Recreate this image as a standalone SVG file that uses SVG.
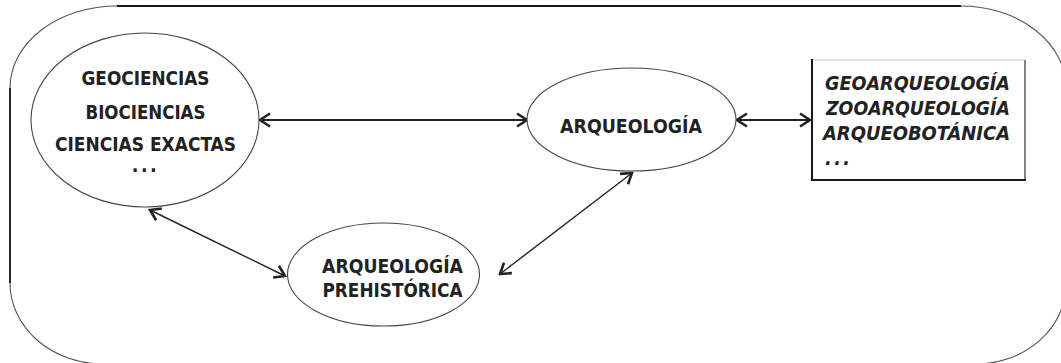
<svg xmlns="http://www.w3.org/2000/svg" width="1061" height="363" viewBox="0 0 1061 363">
  <style>
    .frame-curve { fill: none; stroke: #555; stroke-width: 1.1; }
    .frame-line { fill: none; stroke: #1a1a1a; stroke-width: 1.8; }
    .node-shape { fill: #fff; stroke: #444; stroke-width: 1.1; }
    .label { font-family: "DejaVu Sans Condensed", "DejaVu Sans", sans-serif; font-stretch: condensed; font-weight: bold; font-size: 19.5px; fill: #222; text-anchor: middle; }
    .label-it { font-family: "DejaVu Sans Condensed", "DejaVu Sans", sans-serif; font-stretch: condensed; font-weight: bold; font-style: italic; font-size: 19.5px; fill: #222; }
    .link { fill: none; stroke: #222; marker-start: url(#chevron); marker-end: url(#chevron); }
    .link-main { stroke-width: 2.2; }
    .link-diag { stroke-width: 1.4; }
  </style>
  <defs>
    <marker id="chevron" viewBox="-12 -8 14 16" markerWidth="14" markerHeight="16" refX="0" refY="0" orient="auto-start-reverse" markerUnits="userSpaceOnUse">
      <path d="M-10,-6.5 L0,0 L-10,6.5" fill="none" stroke="#222" stroke-width="2.6" stroke-linejoin="miter"/>
    </marker>
  </defs>

  <rect width="1061" height="363" fill="#fff"/>

  <!-- outer rounded frame; its bottom edge runs just below the canvas -->
  <g id="frame">
    <path class="frame-curve" d="M961,6 A105,82 0 0 1 1066,88 V283 A90,80 0 0 1 976,364 H103 A93,81 0 0 1 10,283 V88 A107,82 0 0 1 117,6"/>
    <line class="frame-line" x1="117" y1="6" x2="961" y2="6"/>
    <line class="frame-line" x1="10" y1="88" x2="10" y2="283" stroke-width="2.4"/>
  </g>

  <!-- connectors -->
  <g id="connectors">
    <line class="link link-main" x1="260" y1="120" x2="527" y2="120"/>
    <line class="link link-main" x1="737" y1="120" x2="810" y2="120"/>
    <line class="link link-diag" x1="150" y1="210" x2="285" y2="276"/>
    <line class="link link-diag" x1="500" y1="274" x2="632" y2="173"/>
  </g>

  <g id="ciencias">
    <ellipse class="node-shape" cx="145" cy="120" rx="114" ry="87"/>
    <text class="label" x="145.5" y="84.5" textLength="128" lengthAdjust="spacingAndGlyphs">GEOCIENCIAS</text>
    <text class="label" x="145.5" y="118.5" textLength="120" lengthAdjust="spacingAndGlyphs">BIOCIENCIAS</text>
    <text class="label" x="145.5" y="150.5" textLength="181" lengthAdjust="spacingAndGlyphs">CIENCIAS EXACTAS</text>
    <text class="label" x="145.5" y="172" letter-spacing="2.5">...</text>
  </g>

  <g id="arqueologia">
    <ellipse class="node-shape" cx="631.5" cy="119.5" rx="104.5" ry="51.5"/>
    <text class="label" x="631" y="133" textLength="142" lengthAdjust="spacingAndGlyphs">ARQUEOLOGÍA</text>
  </g>

  <g id="prehistorica">
    <ellipse class="node-shape" cx="383.5" cy="274.5" rx="96" ry="51.5"/>
    <text class="label" x="392.5" y="273" textLength="141" lengthAdjust="spacingAndGlyphs">ARQUEOLOGÍA</text>
    <text class="label" x="392.5" y="297" textLength="140" lengthAdjust="spacingAndGlyphs">PREHISTÓRICA</text>
  </g>

  <g id="especialidades">
    <rect x="812" y="60" width="213" height="120" fill="#fff" stroke="none"/>
    <line x1="812" y1="60" x2="1025" y2="60" stroke="#c8c8c8" stroke-width="1"/>
    <line x1="1025" y1="60" x2="1025" y2="180" stroke="#666" stroke-width="1.6"/>
    <line x1="812" y1="59" x2="812" y2="181" stroke="#1a1a1a" stroke-width="2"/>
    <line x1="811" y1="180" x2="1026" y2="180" stroke="#1a1a1a" stroke-width="2"/>
    <text class="label-it" x="825" y="90" textLength="185" lengthAdjust="spacingAndGlyphs">GEOARQUEOLOGÍA</text>
    <text class="label-it" x="826" y="115" textLength="184" lengthAdjust="spacingAndGlyphs">ZOOARQUEOLOGÍA</text>
    <text class="label-it" x="823" y="140" textLength="187" lengthAdjust="spacingAndGlyphs">ARQUEOBOTÁNICA</text>
    <text class="label-it" x="825" y="165" letter-spacing="2.5">...</text>
  </g>
</svg>
